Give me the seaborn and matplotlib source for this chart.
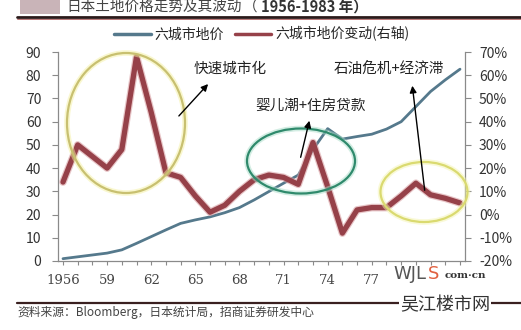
import numpy as np
import pandas as pd
import matplotlib
matplotlib.use("Agg")
import matplotlib.pyplot as plt
import seaborn as sns
from matplotlib.patches import Ellipse, Rectangle
from matplotlib.lines import Line2D

sns.set_theme(style="white")
plt.rcParams['font.family'] = ['Noto Sans CJK SC', 'DejaVu Sans']

years = list(range(1956, 1984))
land_price = [1.0, 1.8, 2.6, 3.4, 4.8, 7.6, 10.5, 13.4, 16.2, 17.7, 19.0, 20.8, 23.0, 26.3,
              29.9, 33.5, 37.0, 48.0, 57.0, 52.5, 53.6, 54.6, 56.8, 60.0, 66.5, 73.0, 78.0, 82.6]
price_change = [14, 30, 25, 20, 28, 68, 44, 18, 16, 8, 1, 4, 10, 15,
                17, 16, 13, 31, 12, -8, 2, 3, 3, 8, 13.5, 8.5, 7, 5]
tick_years = [1956, 1959, 1962, 1965, 1968, 1971, 1974, 1977]
tick_labels = ['1956', '59', '62', '65', '68', '71', '74', '77']
left_ticks = list(range(0, 91, 10))
right_ticks = list(range(-20, 71, 10))

W, H = 521, 330
fig = plt.figure(figsize=(W / 100, H / 100), dpi=100)
fig.patch.set_facecolor('white')

def fx(x):
    return x / W

def fy(y):
    return 1 - y / H

ax = fig.add_axes([fx(58), fy(261), fx(465) - fx(58), fy(52) - fy(261)])
ax.set_facecolor('white')
ax2 = ax.twinx()

df = pd.DataFrame({'year': years, 'price': land_price, 'chg': price_change})
blue = '#55798c'
red = '#964149'
sns.lineplot(data=df, x='year', y='price', ax=ax, color=blue, lw=2.0, legend=False)
sns.lineplot(data=df, x='year', y='chg', ax=ax2, color='#d9a0a4', lw=5.5, alpha=0.6, legend=False)
sns.lineplot(data=df, x='year', y='chg', ax=ax2, color=red, lw=3.8, legend=False)

ax.set_xlim(1956 - 0.34, 1983 + 0.34)
ax.set_ylim(0, 90)
ax2.set_ylim(-20, 70)
ax.set_yticks(left_ticks)
ax.set_yticklabels([str(v) for v in left_ticks])
ax2.set_yticks(right_ticks)
ax2.set_yticklabels([f'{v}%' for v in right_ticks])
ax.set_xticks(years)
ax.set_xticklabels([tick_labels[tick_years.index(y)] if y in tick_years else '' for y in years])
for a in (ax, ax2):
    a.set_xlabel('')
    a.set_ylabel('')
    a.spines['top'].set_visible(False)
    for s in ['left', 'right', 'bottom']:
        a.spines[s].set_color('#8a8a8a')
        a.spines[s].set_linewidth(0.9)
ax.spines['right'].set_visible(False)
ax2.spines['left'].set_visible(False)
ax2.spines['bottom'].set_visible(False)
ax.tick_params(axis='y', direction='out', length=4, width=0.8, color='#8a8a8a',
               labelsize=10, labelcolor='#333333', pad=8, left=True)
ax2.tick_params(axis='y', direction='out', length=4, width=0.8, color='#8a8a8a',
                labelsize=10, labelcolor='#333333', pad=6, right=True)
ax.tick_params(axis='x', direction='out', length=3, width=0.8, color='#8a8a8a',
               labelsize=9.5, labelcolor='#444444', pad=6, bottom=True)
for lab in ax.get_xticklabels():
    lab.set_fontfamily(['DejaVu Serif'])

# Legend
leg_handles = [Line2D([], [], color=blue, lw=2.5), Line2D([], [], color=red, lw=2.5)]
fig.legend(leg_handles, ['六城市地价', '六城市地价变动(右轴)'], loc='center',
           bbox_to_anchor=(fx(262), fy(34)), ncol=2, frameon=False, fontsize=10,
           handlelength=2.6, handletextpad=0.3, columnspacing=0.8)

# Title
fig.patches.append(Rectangle((fx(20), fy(14)), fx(40), fy(0) - fy(14), transform=fig.transFigure,
                             facecolor='#c9b4b8', edgecolor='none', zorder=0))
fig.text(fx(66), fy(7), '日本土地价格走势及其波动', fontsize=10.5, color='#444444',
         ha='left', va='center')
fig.text(fx(243), fy(7), '（', fontsize=10.5, color='#444444', ha='left', va='center')
fig.text(fx(261), fy(7), '1956-1983 年）', fontsize=10.5, color='#333333', fontweight='bold',
         ha='left', va='center')
fig.add_artist(Line2D([fx(17), fx(521)], [fy(17), fy(17)], transform=fig.transFigure,
                      color='#2a1a1a', lw=2.0))
fig.add_artist(Line2D([fx(17), fx(521)], [fy(19), fy(19)], transform=fig.transFigure,
                      color='#b06060', lw=0.6))

# Bottom source
fig.add_artist(Line2D([fx(17), fx(521)], [fy(303), fy(303)], transform=fig.transFigure,
                      color='#3a2020', lw=1.6))
fig.text(fx(17), fy(312), '资料来源：Bloomberg，日本统计局，招商证券研发中心', fontsize=8.5,
         color='#444444', ha='left', va='center')

# Ellipses
def ell(cx, cy, w, h, color, glow):
    fig.patches.append(Ellipse((fx(cx), fy(cy)), fx(w), fy(0) - fy(h), transform=fig.transFigure,
                               fill=False, edgecolor=glow, lw=4, alpha=0.5, zorder=5))
    fig.patches.append(Ellipse((fx(cx), fy(cy)), fx(w), fy(0) - fy(h), transform=fig.transFigure,
                               fill=False, edgecolor=color, lw=1.6, zorder=6))

ell(126, 123, 118, 140, '#c8c070', '#f4f0a0')
ell(301, 161, 108, 65, '#2f8a6c', '#a8dcc8')
ell(424, 192, 87, 60, '#dada70', '#f4f4b0')

# Annotation texts and arrows
fig.text(fx(230), fy(69), '快速城市化', fontsize=10.5, color='#222222', ha='center', va='center')
fig.text(fx(310), fy(106), '婴儿潮+住房贷款', fontsize=10.5, color='#222222', ha='center', va='center')
fig.text(fx(389), fy(69), '石油危机+经济滞', fontsize=10.5, color='#222222', ha='center', va='center')

def arrow(x0, y0, x1, y1):
    fig.add_artist(matplotlib.patches.FancyArrowPatch(
        (fx(x0), fy(y0)), (fx(x1), fy(y1)), transform=fig.transFigure,
        arrowstyle='-|>', mutation_scale=10, color='black', lw=1.0, zorder=7))

arrow(177, 118, 210, 82)
arrow(300, 160, 310, 118)
arrow(425, 193, 412, 83)

# Watermark
fig.text(fx(393), fy(274), 'WJL', fontsize=13, color='#555555', ha='left', va='center', family=['DejaVu Sans'])
fig.text(fx(428), fy(274), 'S', fontsize=13, color='#e06040', ha='left', va='center', family=['DejaVu Sans'])
fig.text(fx(445), fy(276), 'com·cn', fontsize=7.5, color='#333333', fontweight='bold', ha='left', va='center',
         family=['DejaVu Serif'])
fig.text(fx(400), fy(305), '吴江楼市网', fontsize=13, color='#333333', ha='left', va='center',
         bbox=dict(facecolor='white', edgecolor='none', pad=1))

fig.savefig('out.png', dpi=100, facecolor='white')
